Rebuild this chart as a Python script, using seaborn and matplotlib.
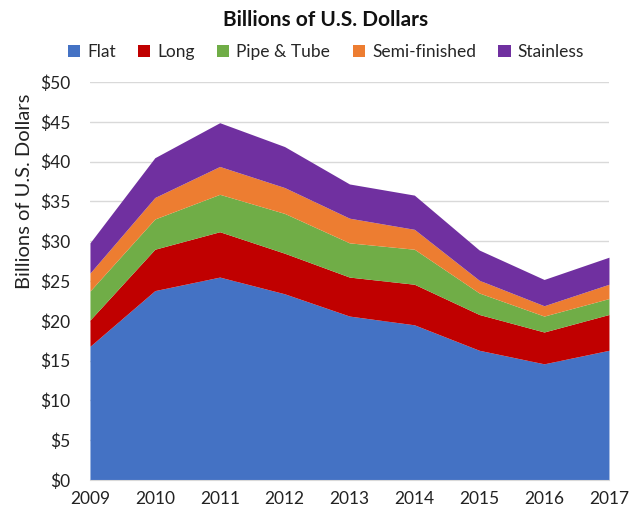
import numpy as np
import matplotlib.pyplot as plt
import seaborn as sns

# values (billions of US dollars)
years = [2009, 2010, 2011, 2012, 2013, 2014, 2015, 2016, 2017]
flat = [16.8, 23.8, 25.5, 23.4, 20.6, 19.5, 16.3, 14.6, 16.3]
long_ = [3.3, 5.2, 5.7, 5.1, 4.9, 5.1, 4.5, 4.0, 4.5]
pipe_tube = [3.65, 3.8, 4.7, 5.0, 4.3, 4.4, 2.7, 2.0, 2.0]
semi_finished = [2.25, 2.7, 3.5, 3.25, 3.1, 2.5, 1.6, 1.3, 1.8]
stainless = [3.8, 5.0, 5.5, 5.15, 4.3, 4.3, 3.8, 3.3, 3.4]
labels = ["Flat", "Long", "Pipe & Tube", "Semi-finished", "Stainless"]
colors = ["#4472C4", "#C00000", "#70AD47", "#ED7D31", "#7030A0"]

sns.set_style("white")
plt.rcParams['font.family'] = ['Lato', 'DejaVu Sans']

fig = plt.figure(figsize=(6.39, 5.23), dpi=100)
ax = fig.add_axes([0.1408, 0.0822, 0.8122, 0.7608])

ax.stackplot(years, flat, long_, pipe_tube, semi_finished, stainless,
             labels=labels, colors=colors, linewidth=0, zorder=2)

ax.set_xlim(2009, 2017)
ax.set_ylim(0, 50)
ax.set_yticks(np.arange(0, 51, 5))
ax.set_yticklabels([f"${v}" for v in range(0, 51, 5)])
ax.set_xticks(years)
ax.tick_params(axis='both', labelsize=12.5, length=0, colors='#222222')
ax.tick_params(axis='x', pad=8)
ax.tick_params(axis='y', pad=14)
ax.yaxis.grid(True, color='#d9d9d9', linewidth=1, zorder=0)
ax.set_axisbelow(True)
sns.despine(ax=ax, left=True, top=True, right=True, bottom=False)
ax.spines['bottom'].set_color('#d9d9d9')
ax.set_ylabel("Billions of U.S. Dollars", fontsize=14.5, color='#222222')
ax.yaxis.set_label_coords(-0.11, 0.726)

fig.text(0.51, 0.962, "Billions of U.S. Dollars", ha='center', va='center',
         fontsize=15, fontweight='bold', color='#111111')
fig.legend(loc='center', bbox_to_anchor=(0.51, 0.9), ncol=5, frameon=False,
           fontsize=12.5, handlelength=0.7, handleheight=0.7,
           handletextpad=0.4, columnspacing=1.3)

fig.savefig("out.png", dpi=100)
